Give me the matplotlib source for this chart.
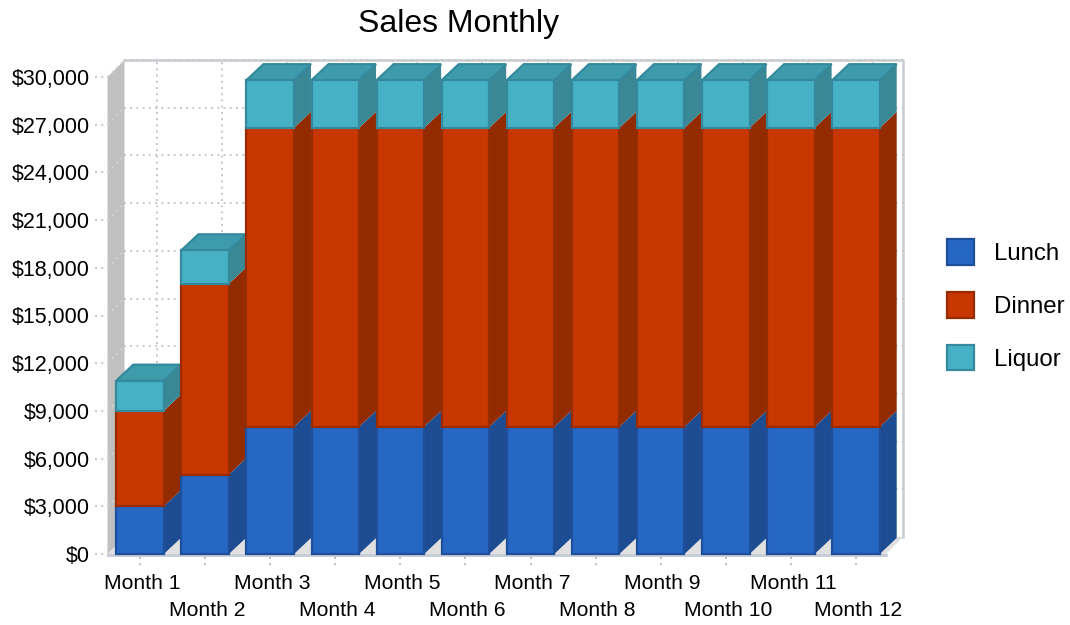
import matplotlib
matplotlib.use("Agg")
import matplotlib.pyplot as plt
from matplotlib.patches import Polygon, Patch

plt.rcParams['font.family'] = ['Liberation Sans', 'DejaVu Sans']

months = ["Month 1", "Month 2", "Month 3", "Month 4", "Month 5", "Month 6",
          "Month 7", "Month 8", "Month 9", "Month 10", "Month 11", "Month 12"]
lunch = [3000, 5000, 8000, 8000, 8000, 8000, 8000, 8000, 8000, 8000, 8000, 8000]
dinner = [6000, 12000, 18800, 18800, 18800, 18800, 18800, 18800, 18800, 18800, 18800, 18800]
liquor = [1900, 2100, 3000, 3000, 3000, 3000, 3000, 3000, 3000, 3000, 3000, 3000]
yticks = [0, 3000, 6000, 9000, 12000, 15000, 18000, 21000, 24000, 27000, 30000]

# name, values, front, side, top, edge
series = [
    ("Lunch", lunch, "#2767c4", "#1e4c92", "#1e4c92", "#1e4f9b"),
    ("Dinner", dinner, "#c93700", "#922b00", "#922b00", "#962c00"),
    ("Liquor", liquor, "#46b0c5", "#3a8796", "#3e9bac", "#348a9c"),
]

fig = plt.figure(figsize=(10.7, 6.25), dpi=100)
ax = fig.add_axes([107.5 / 1070, 71 / 625, 781 / 1070, 477 / 625])
ax.set_xlim(-0.5, 11.5)
ax.set_ylim(0, 30000)
ax.patch.set_visible(False)
for s in ax.spines.values():
    s.set_visible(False)

# depth of the fake 3d in data units, walls 17 px, boxes a bit less
px = 781 / 12
dx = 17 / px
dy = 17 / (477 / 30000)
box_dy = 16 / (477 / 30000)
bar_w = 47.5 / px
x0, x1 = -0.5, 11.5 - 2.5 / px
top = 30000


def poly(pts, color, z, edge="none", lw=0):
    ax.add_patch(Polygon(pts, closed=True, facecolor=color, edgecolor=edge,
                         linewidth=lw, clip_on=False, zorder=z))


# walls and floor
poly([(x0, 0), (x0 + dx, dy), (x1 + dx, dy), (x1, 0)], "#e0e0e0", 1)
poly([(x0, 0), (x0 + dx, dy), (x0 + dx, top + dy), (x0, top)], "#c0c0c0", 1)
ax.plot([x0 + dx, x1 + dx, x1 + dx], [top + dy, top + dy, dy], color="#c8ccd2",
        lw=1.8, clip_on=False, zorder=1)
ax.plot([x0, x1], [-40, -40], color="#c4cad6", lw=2, clip_on=False, zorder=1)

# dotted grid on back wall, side wall and outside ticks
dots = dict(color="#c8c8c8", lw=1.4, linestyle=(0, (1, 2.2)), clip_on=False, zorder=2)
for v in yticks[1:]:
    ax.plot([x0 + dx, x1 + dx], [v + dy, v + dy], **dots)
    ax.plot([x0, x0 + dx], [v, v + dy], **{**dots, "color": "#d4d4d4"})
for v in yticks:
    ax.plot([x0 - 0.19, x0], [v, v], **dots)
for i in range(len(months)):
    ax.plot([i + dx, i + dx], [dy, top + dy], **dots)
    ax.plot([i, i], [-200, -800], **{**dots, "color": "#bcbcbc"})

# stacked boxes
z = 3
for i in range(len(months)):
    base = 0
    for name, vals, front, side, roof, edge in series:
        h = vals[i]
        l, r = i - bar_w / 2, i + bar_w / 2
        poly([(r, base), (r + dx, base + box_dy), (r + dx, base + h + box_dy), (r, base + h)], side, z)
        if name == "Liquor":
            poly([(l, base + h), (l + dx, base + h + box_dy), (r + dx, base + h + box_dy),
                  (r, base + h)], roof, z, edge, 1.6)
        ax.bar(i, h, bar_w, bottom=base, color=front, edgecolor=edge, linewidth=1.6,
               clip_on=False, zorder=z + 1)
        base += h
    z += 2

ax.set_yticks(yticks)
ax.set_yticklabels(["$" + format(v, ",") for v in yticks], fontsize=15.5)
ax.tick_params(axis="y", length=0, pad=13)
ax.set_xticks([])

# month labels sit on two staggered rows
for i, m in enumerate(months):
    off = -35 if i % 2 == 0 else -62
    ax.annotate(m, (i, 0), xytext=(2, off), textcoords="offset pixels",
                ha="center", va="baseline", fontsize=15.2, annotation_clip=False)

fig.text(459 / 1070, 1 - 24 / 625, "Sales Monthly", ha="center", va="center", fontsize=23)

handles = [Patch(facecolor=s[2], edgecolor=s[5], linewidth=1.6, label=s[0]) for s in series]
ax.legend(handles=handles, loc="center left", bbox_to_anchor=(940 / 1070, 1 - 305 / 625),
          bbox_transform=fig.transFigure, frameon=False, fontsize=17.3,
          handlelength=1.1, handleheight=1.25, labelspacing=1.12, handletextpad=0.85,
          borderpad=0.3, borderaxespad=0)

fig.savefig("out.png", dpi=100)
plt.close(fig)
